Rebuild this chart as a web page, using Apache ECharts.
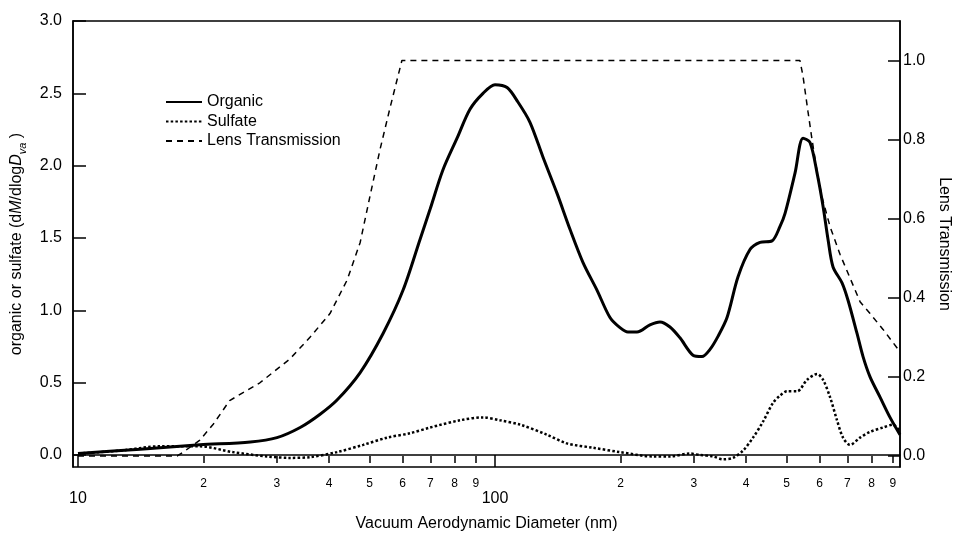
<!DOCTYPE html>
<html>
<head>
<meta charset="utf-8">
<script src="https://cdn.jsdelivr.net/npm/echarts@6/dist/echarts.min.js"></script>
<style>
html,body{margin:0;padding:0;background:#fff;}
#chart{width:953px;height:533px;}
</style>
</head>
<body>
<div id="chart"></div>
<script>
// ---- data ----
const organicD = [10.0,14.1,19.6,25.9,30.0,34.1,38.0,41.8,47.5,53.9,60.2,66.1,69.9,75.0,81.1,87.1,93.6,100,106.9,113.5,121.3,130.3,140.8,151.3,162.6,175.6,188.7,199.4,208.4,219.0,235.3,248.7,262.8,277.7,298.4,313.6,327.8,342.6,360.1,382.5,408.8,432.0,461.6,482.5,496.1,524.3,547.9,569.5,591.9,611.9,629.0,646.6,679.5,702.4,738.2,763.1,793.2,838.2,885.7,935.9];
const organicV = [0.01,0.04,0.07,0.09,0.12,0.19,0.28,0.38,0.57,0.84,1.14,1.49,1.70,1.97,2.19,2.39,2.50,2.56,2.54,2.44,2.30,2.06,1.81,1.56,1.33,1.14,0.95,0.88,0.85,0.85,0.90,0.92,0.885,0.81,0.69,0.68,0.73,0.82,0.95,1.23,1.42,1.47,1.48,1.58,1.67,1.95,2.19,2.16,1.95,1.72,1.49,1.30,1.19,1.07,0.84,0.68,0.54,0.40,0.26,0.14];

const sulfateD = [10.0,12.6,15.7,19.6,23.5,28.4,32.2,36.0,41.8,48.3,55.1,62.5,69.9,82.4,93.6,102.8,114.8,133.3,148.8,171.8,199.4,239.3,262.8,293.5,310.2,333.3,352.2,372.2,393.3,415.7,439.2,464.2,482.5,501.6,530.1,560.2,591.9,611.9,636.0,661.0,683.3,710.2,750.6,793.2,852.2,900.5,935.9];
const sulfateV = [0.01,0.03,0.06,0.06,0.02,-0.01,-0.02,-0.015,0.02,0.07,0.12,0.15,0.19,0.24,0.26,0.24,0.21,0.14,0.08,0.05,0.02,-0.01,-0.01,0.01,0.00,-0.01,-0.03,-0.02,0.03,0.12,0.23,0.36,0.41,0.44,0.44,0.52,0.56,0.52,0.40,0.24,0.12,0.07,0.12,0.16,0.19,0.21,0.16];

const lensD = [10.0,17.3,17.9,19.6,21.1,23.1,27.3,32.2,36.0,40.2,44.2,47.5,50.1,53.0,56.0,59.8,538.7,547.9,563.2,575.8,591.9,608.3,636.0,672.0,710.2,750.6,793.2,852.2,925.7,935.9];
const lensT = [0.0,0.0,0.01,0.04,0.08,0.14,0.185,0.245,0.30,0.36,0.445,0.54,0.655,0.775,0.88,1.0,1.0,0.96,0.87,0.80,0.72,0.655,0.58,0.51,0.45,0.39,0.36,0.32,0.27,0.27];

const xMajorTicks = [10, 100];
const xMinorTicks = [20,30,40,50,60,70,80,90,200,300,400,500,600,700,800,900];
const leftTicks = [0,0.5,1.0,1.5,2.0,2.5,3.0];
const rightTicks = [0,0.2,0.4,0.6,0.8,1.0];

const pairs = (xs, ys) => xs.map((x, i) => [x, ys[i]]);

const FONT = 'Liberation Sans';
const X_MIN = 9.728, X_MAX = 935.9;

const chart = echarts.init(document.getElementById('chart'), null, {renderer: 'canvas'});
chart.setOption({
  animation: false,
  backgroundColor: '#fff',
  textStyle: {fontFamily: FONT, color: '#000'},
  grid: {left: 73, right: 53, top: 21, bottom: 66, containLabel: false, outerBoundsMode: 'none',
    show: true, borderColor: '#000', borderWidth: 1.5, backgroundColor: 'transparent'},
  legend: {
    orient: 'vertical', left: 160, top: 89, itemWidth: 36, itemHeight: 12, itemGap: 3.5,
    itemStyle: {opacity: 0},
    textStyle: {fontFamily: FONT, fontSize: 16, color: '#000'},
    data: ['Organic', 'Sulfate', 'Lens Transmission']
  },
  xAxis: [
    {
      type: 'log', min: X_MIN, max: X_MAX, position: 'bottom',
      name: 'Vacuum Aerodynamic Diameter (nm)', nameLocation: 'middle', nameGap: 49,
      nameTextStyle: {fontFamily: FONT, fontSize: 16, color: '#000'},
      axisLine: {show: true, lineStyle: {color: '#000', width: 1.5}},
      axisTick: {show: true, inside: false, length: 12, lineStyle: {color: '#000', width: 1.5}, customValues: xMajorTicks},
      axisLabel: {show: true, fontSize: 16, color: '#000', margin: 24, customValues: xMajorTicks, formatter: v => String(Math.round(v))},
      minorTick: {show: false}, splitLine: {show: false}
    },
    {
      type: 'log', min: X_MIN, max: X_MAX, position: 'bottom',
      axisLine: {show: false},
      axisTick: {show: true, inside: false, length: 7, lineStyle: {color: '#000', width: 1.5}, customValues: xMinorTicks},
      axisLabel: {show: true, fontSize: 12, color: '#000', margin: 11, customValues: xMinorTicks,
        formatter: v => { const r = Math.round(v); return String(r >= 100 ? r / 100 : r / 10); }},
      minorTick: {show: false}, splitLine: {show: false}
    }
  ],
  yAxis: [
    {
      type: 'value', min: -0.083, max: 3.0, position: 'left',
      name: '{n|organic or sulfate (d}{i|M}{n|/dlog}{i|D}{s|va}{n| )}',
      nameLocation: 'middle', nameGap: 44, nameRotate: 90,
      nameTextStyle: {
        fontFamily: FONT, fontSize: 16, color: '#000',
        rich: {
          n: {fontFamily: FONT, fontSize: 16, color: '#000', lineHeight: 24, verticalAlign: 'middle'},
          i: {fontFamily: FONT, fontSize: 16, color: '#000', fontStyle: 'italic', lineHeight: 24, verticalAlign: 'middle'},
          s: {fontFamily: FONT, fontSize: 11, color: '#000', fontStyle: 'italic', lineHeight: 24, verticalAlign: 'bottom'}
        }
      },
      axisLine: {show: true, lineStyle: {color: '#000', width: 1.5}},
      axisTick: {show: true, inside: true, length: 13, lineStyle: {color: '#000', width: 1.5}, customValues: leftTicks},
      axisLabel: {show: true, fontSize: 16, color: '#000', margin: 11, customValues: leftTicks, formatter: v => v.toFixed(1)},
      splitLine: {show: false}
    },
    {
      type: 'value', min: -0.028, max: 1.1, position: 'right',
      name: 'Lens Transmission', nameLocation: 'middle', nameGap: 34, nameRotate: -90,
      nameTextStyle: {fontFamily: FONT, fontSize: 16, color: '#000'},
      axisLine: {show: true, lineStyle: {color: '#000', width: 1.5}},
      axisTick: {show: true, inside: true, length: 12, lineStyle: {color: '#000', width: 1.5}, customValues: rightTicks},
      axisLabel: {show: true, fontSize: 16, color: '#000', margin: 3, customValues: rightTicks, formatter: v => v.toFixed(1)},
      splitLine: {show: false}
    }
  ],
  series: [
    {
      name: 'Organic', type: 'line', xAxisIndex: 0, yAxisIndex: 0, data: pairs(organicD, organicV),
      symbol: 'none', smooth: 0.3, lineStyle: {color: '#000', width: 3}, itemStyle: {color: '#000'}, z: 3
    },
    {
      name: 'Sulfate', type: 'line', xAxisIndex: 0, yAxisIndex: 0, data: pairs(sulfateD, sulfateV),
      symbol: 'none', smooth: 0.3, lineStyle: {color: '#000', width: 2.5, type: [2.5, 2.2], cap: 'butt'}, itemStyle: {color: '#000'}, z: 2
    },
    {
      name: 'Lens Transmission', type: 'line', xAxisIndex: 0, yAxisIndex: 1, data: pairs(lensD, lensT),
      symbol: 'none', smooth: false, lineStyle: {color: '#000', width: 1.5, type: [6, 5]}, itemStyle: {color: '#000'}, z: 1
    }
  ]
});
</script>
</body>
</html>
